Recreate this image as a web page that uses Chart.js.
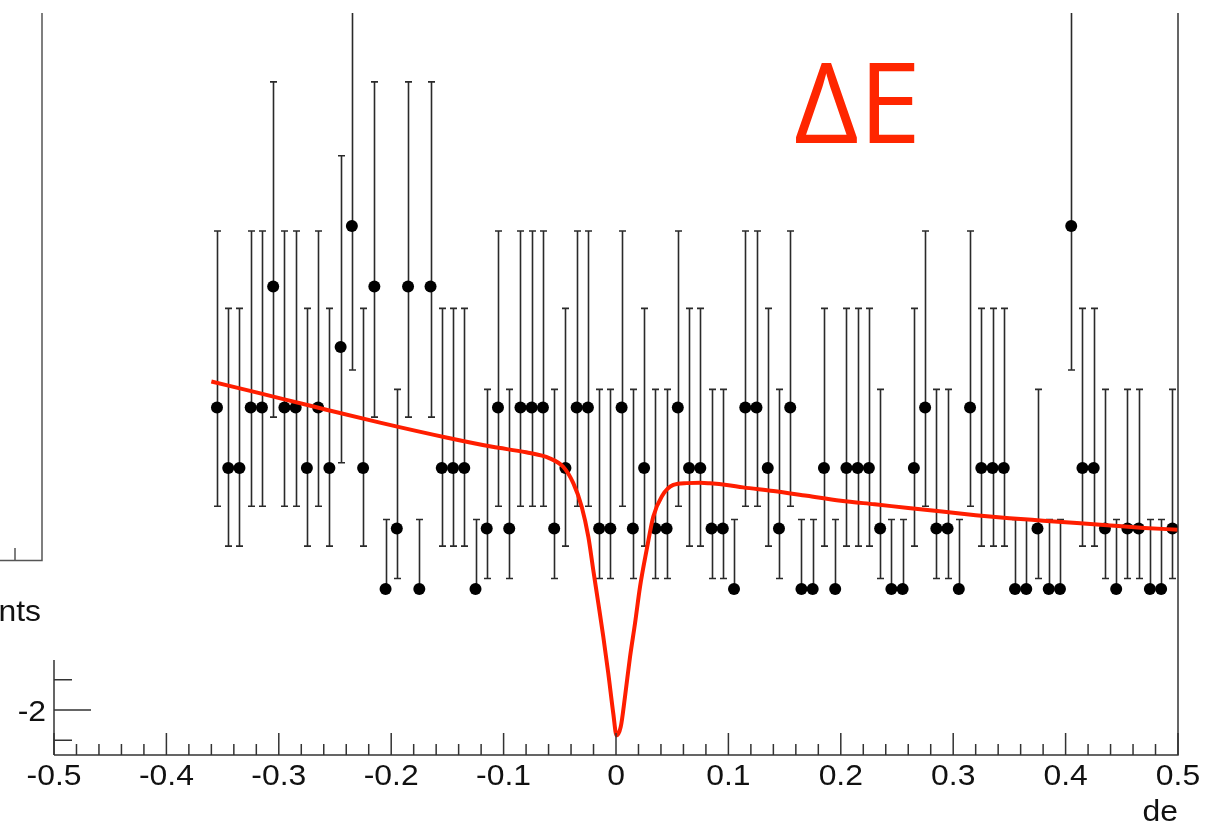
<!DOCTYPE html>
<html>
<head>
<meta charset="utf-8">
<title>de fit</title>
<script src="https://cdn.jsdelivr.net/npm/chart.js@4.4.1/dist/chart.umd.min.js"></script>
<style>
  html, body { margin: 0; padding: 0; background: #fff; }
  #wrap { width: 1220px; height: 824px; }
</style>
</head>
<body>
<div id="wrap"><canvas id="deChart" width="1220" height="824"></canvas></div>
<script>
// bin centres (bin width 0.01), visible part of the histogram
const binCenters = [
  -0.355, -0.345, -0.335, -0.325, -0.315, -0.305, -0.295, -0.285, -0.275, -0.265,
  -0.255, -0.245, -0.235, -0.225, -0.215, -0.205, -0.195, -0.185, -0.175, -0.165,
  -0.155, -0.145, -0.135, -0.125, -0.115, -0.105, -0.095, -0.085, -0.075, -0.065,
  -0.055, -0.045, -0.035, -0.025, -0.015, -0.005, 0.005, 0.015, 0.025, 0.035,
  0.045, 0.055, 0.065, 0.075, 0.085, 0.095, 0.105, 0.115, 0.125, 0.135,
  0.145, 0.155, 0.165, 0.175, 0.185, 0.195, 0.205, 0.215, 0.225, 0.235,
  0.245, 0.255, 0.265, 0.275, 0.285, 0.295, 0.305, 0.315, 0.325, 0.335,
  0.345, 0.355, 0.365, 0.375, 0.385, 0.395, 0.405, 0.415, 0.425, 0.435,
  0.445, 0.455, 0.465, 0.475, 0.485, 0.495
];
const counts = [
  3, 2, 2, 3, 3, 5, 3, 3, 2, 3,
  2, 4, 6, 2, 5, 0, 1, 5, 0, 5,
  2, 2, 2, 0, 1, 3, 1, 3, 3, 3,
  1, 2, 3, 3, 1, 1, 3, 1, 2, 1,
  1, 3, 2, 2, 1, 1, 0, 3, 3, 2,
  1, 3, 0, 0, 2, 0, 2, 2, 2, 1,
  0, 0, 2, 3, 1, 1, 0, 3, 2, 2,
  2, 0, 0, 1, 0, 0, 6, 2, 2, 1,
  0, 1, 1, 0, 0, 1
];
// asymmetric Poisson errors, looked up by count
const errLow  = [0, 0.827, 1.292, 1.633, 1.914, 2.159, 2.379];
const errHigh = [1.148, 2.300, 2.638, 2.918, 3.162, 3.382, 3.583];

// fitted function
const fitX = [
  -0.36, -0.32, -0.27, -0.21, -0.15, -0.11, -0.08, -0.059, -0.047, -0.038,
  -0.0305, -0.0246, -0.0202, -0.0157, -0.0113, -0.0069, -0.0024, 0.0005, 0.0042, 0.008,
  0.0125, 0.0169, 0.0214, 0.0273, 0.0332, 0.0407, 0.051, 0.063, 0.075, 0.0836,
  0.0985, 0.113, 0.14, 0.17, 0.2, 0.23, 0.26, 0.29, 0.32, 0.35,
  0.38, 0.41, 0.44, 0.47, 0.5
];
const fitY = [
  3.43, 3.25, 3.02, 2.75, 2.50, 2.35, 2.26, 2.16, 2.02, 1.75,
  1.36, 0.86, 0.31, -0.24, -0.79, -1.39, -2.06, -2.42, -2.28, -1.78,
  -1.12, -0.57, 0.04, 0.65, 1.20, 1.53, 1.72, 1.75, 1.757, 1.747,
  1.72, 1.68, 1.62, 1.54, 1.46, 1.40, 1.34, 1.28, 1.22, 1.17,
  1.13, 1.09, 1.05, 1.01, 0.98
];

const xTicks = [-0.5, -0.4, -0.3, -0.2, -0.1, 0, 0.1, 0.2, 0.3, 0.4, 0.5];
const xTickLabels = ['-0.5', '-0.4', '-0.3', '-0.2', '-0.1', '0', '0.1', '0.2', '0.3', '0.4', '0.5'];
const yTicks = [-2];
const yTickLabels = ['-2'];

const labelFont = '29px "Liberation Sans", Arial, sans-serif';
const axisColor = '#333';

// text in the plot is a little wider than the font, stretch it slightly
function wideText(ctx, text, x, y, align) {
    ctx.save();
    ctx.translate(x, y);
    ctx.scale(1.1, 1);
    ctx.textAlign = align;
    ctx.fillText(text, 0, 0);
    ctx.restore();
}

// ROOT style frame, inward ticks and error bars
const rootStyle = {
    id: 'rootStyle',
    beforeDatasetsDraw(chart) {
        const { ctx, chartArea: a } = chart;
        const xs = chart.scales.x, ys = chart.scales.y;
        ctx.save();
        ctx.beginPath();
        ctx.rect(a.left, a.top, a.right - a.left, a.bottom - a.top);
        ctx.clip();
        ctx.strokeStyle = '#2a2a2a';
        ctx.lineWidth = 1.6;
        binCenters.forEach((x, i) => {
            const c = counts[i];
            const px = Math.round(xs.getPixelForValue(x)) + 0.5;
            const yHi = ys.getPixelForValue(c + errHigh[c]);
            const yLo = ys.getPixelForValue(c - errLow[c]);
            ctx.beginPath();
            ctx.moveTo(px, yHi);
            ctx.lineTo(px, yLo);
            ctx.moveTo(px - 3.5, yHi);
            ctx.lineTo(px + 3.5, yHi);
            if (errLow[c] > 0) {
                ctx.moveTo(px - 3.5, yLo);
                ctx.lineTo(px + 3.5, yLo);
            }
            ctx.stroke();
        });
        ctx.restore();
    },
    afterDraw(chart) {
        const { ctx, chartArea: a } = chart;
        const xs = chart.scales.x, ys = chart.scales.y;
        ctx.save();
        ctx.strokeStyle = axisColor;
        ctx.lineWidth = 1.5;

        // x axis + right edge of frame
        ctx.beginPath();
        ctx.moveTo(a.left, a.bottom);
        ctx.lineTo(a.right, a.bottom);
        ctx.lineTo(a.right, a.top);
        ctx.stroke();

        // x ticks: major every 0.1, minor every 0.02
        ctx.beginPath();
        for (let k = 0; k <= 50; k++) {
            const v = -0.5 + k * 0.02;
            const px = xs.getPixelForValue(v);
            const len = (k % 5 === 0) ? 22 : 11;
            ctx.moveTo(px, a.bottom);
            ctx.lineTo(px, a.bottom - len);
        }
        ctx.stroke();

        ctx.fillStyle = '#111';
        ctx.font = labelFont;
        ctx.textBaseline = 'alphabetic';
        xTicks.forEach((v, i) => {
            wideText(ctx, xTickLabels[i], xs.getPixelForValue(v), 785, 'center');
        });
        wideText(ctx, 'de', a.right, 821, 'right');

        // what is left of the y axis
        const yAxisTop = 660;
        ctx.beginPath();
        ctx.moveTo(a.left, a.bottom);
        ctx.lineTo(a.left, yAxisTop);
        [-1.5, -2.5].forEach(v => {
            const py = ys.getPixelForValue(v);
            ctx.moveTo(a.left, py);
            ctx.lineTo(a.left + 18, py);
        });
        yTicks.forEach(v => {
            const py = ys.getPixelForValue(v);
            ctx.moveTo(a.left, py);
            ctx.lineTo(a.left + 37, py);
        });
        ctx.stroke();
        yTicks.forEach((v, i) => {
            wideText(ctx, yTickLabels[i], 46, ys.getPixelForValue(v) + 11, 'right');
        });

        // corner of the neighbouring pad
        ctx.strokeStyle = '#555';
        ctx.beginPath();
        ctx.moveTo(42, 13);
        ctx.lineTo(42, 560.5);
        ctx.lineTo(0, 560.5);
        ctx.moveTo(15, 560.5);
        ctx.lineTo(15, 548);
        ctx.stroke();
        wideText(ctx, 'nts', 41, 621, 'right');

        // label
        ctx.fillStyle = 'rgb(255, 38, 0)';
        ctx.font = '112px "Open Sans", "DejaVu Sans", sans-serif';
        ctx.textAlign = 'left';
        ctx.fillText('\u0394E', 794, 143);
        ctx.restore();
    }
};

const ctx = document.getElementById('deChart').getContext('2d');
new Chart(ctx, {
    type: 'scatter',
    data: {
        datasets: [
            {
                label: 'fit',
                data: fitX.map((x, i) => ({ x: x, y: fitY[i] })),
                showLine: true,
                borderColor: 'rgb(255, 30, 0)',
                borderWidth: 4,
                pointRadius: 0,
                cubicInterpolationMode: 'monotone',
                fill: false
            },
            {
                label: 'data',
                data: binCenters.map((x, i) => ({ x: x, y: counts[i] })),
                showLine: false,
                pointRadius: 6,
                pointStyle: 'circle',
                backgroundColor: '#000',
                borderColor: '#000',
                borderWidth: 0
            }
        ]
    },
    options: {
        responsive: false,
        animation: false,
        devicePixelRatio: 1,
        events: [],
        layout: { padding: { left: 54, right: 42, top: 13, bottom: 69 } },
        plugins: { legend: { display: false }, tooltip: { enabled: false } },
        scales: {
            x: { type: 'linear', min: -0.5, max: 0.5, display: false },
            y: { type: 'linear', min: -2.744, max: 9.521, display: false }
        }
    },
    plugins: [rootStyle]
});
</script>
</body>
</html>
